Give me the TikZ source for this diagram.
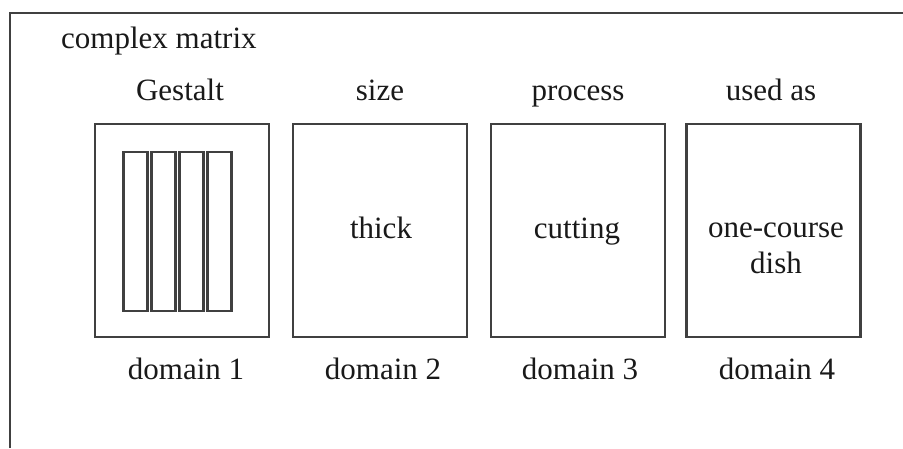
\documentclass[tikz,border=0pt]{standalone}
\usepackage{fontspec}
\setmainfont{Liberation Serif}
\begin{document}
\begin{tikzpicture}[x=1pt,y=-1pt,
  every node/.style={font=\fontsize{31}{36}\selectfont, inner sep=0pt, text=black!90},
  frameline/.style={draw=black!75, line width=2.5pt},
  dombox/.style={draw=black!75, line width=2.5pt, rectangle, minimum width=174pt, minimum height=213pt},
  bar/.style={draw=black!75, line width=2.2pt, rectangle, minimum width=24pt, minimum height=159pt},
  head/.style={anchor=base},
  caption/.style={anchor=base},
  inside/.style={anchor=base, align=center}
]
\useasboundingbox (0,0) rectangle (903,448);

% open outer frame: top and left edges only
\coordinate (ftl) at (10,13);
\coordinate (ftr) at (903,13);
\coordinate (fbl) at (10,448);
\draw[frameline] (fbl) -- (ftl) -- (ftr);

\node[anchor=base west] (title) at (61,48) {complex matrix};

% four domain boxes
\node[dombox] (d1) at (182,230.5) {};
\node[dombox] (d2) at (380,230.5) {};
\node[dombox] (d3) at (578,230.5) {};
\node[dombox] (d4) at (773.5,230.5) {};

% headings above the boxes
\node[head] (h1) at (180,100) {Gestalt};
\node[head] (h2) at (380,100) {size};
\node[head] (h3) at (578,100) {process};
\node[head] (h4) at (771,100) {used as};

% Gestalt: four vertical bars
\node[bar] (b1) at (135.5,231.5) {};
\node[bar] (b2) at (163.5,231.5) {};
\node[bar] (b3) at (191.5,231.5) {};
\node[bar] (b4) at (219.5,231.5) {};

% box contents (base of a two-line node is its last line)
\node[inside] (t2) at (381,238) {thick};
\node[inside] (t3) at (577,238) {cutting};
\node[inside] (t4) at (776,273) {one-course\\dish};

% captions below the boxes
\node[caption] (c1) at (186,379) {domain 1};
\node[caption] (c2) at (383,379) {domain 2};
\node[caption] (c3) at (580,379) {domain 3};
\node[caption] (c4) at (777,379) {domain 4};
\end{tikzpicture}
\end{document}
